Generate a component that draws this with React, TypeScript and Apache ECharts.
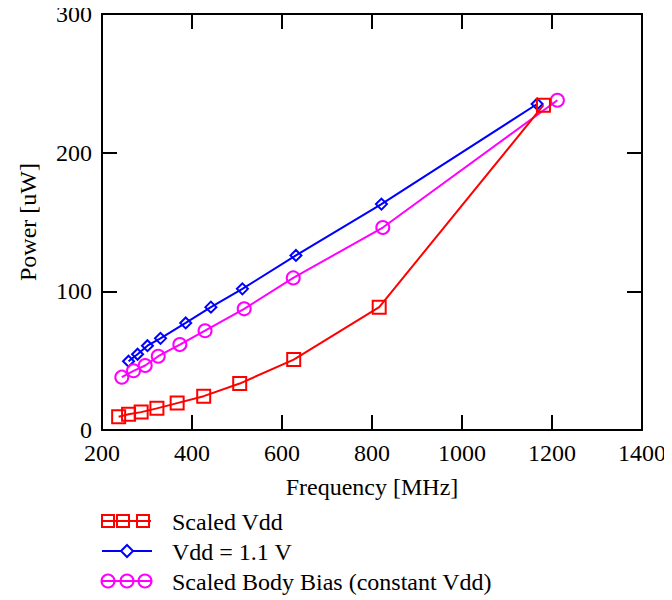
import React, { useEffect, useRef } from "react";
import * as echarts from "echarts";

const freqScaledVdd = [237, 259, 287, 322, 367, 426, 506, 626, 816, 1181];
const powerScaledVdd = [9.6, 11.3, 12.9, 15.6, 19.4, 24.4, 33.5, 50.8, 88.6, 234.2];
const freqNominal = [259, 279, 301, 330, 386, 442, 512, 631, 821, 1167];
const powerNominal = [49.6, 54.6, 60.8, 66.1, 77.2, 88.6, 101.8, 125.9, 162.9, 235.1];
const freqBodyBias = [244, 270, 296, 325, 373, 429, 516, 625, 824, 1212];
const powerBodyBias = [38.1, 42.7, 46.5, 53.2, 61.6, 71.6, 87.4, 109.7, 146, 237.8];

const seriesNames = ["Scaled Vdd", "Vdd = 1.1 V", "Scaled Body Bias (constant Vdd)"];
const seriesColors = ["#ff0000", "#0000ff", "#ff00ff"];
const xAxisName = "Frequency [MHz]";
const yAxisName = "Power [uW]";

const FONT = "'Liberation Serif', 'Times New Roman', serif";
const FS = 24;

function zip(xs: number[], ys: number[]) {
  return xs.map((x, i) => [x, ys[i]]);
}

export default function App() {
  const ref = useRef<HTMLDivElement>(null);
  useEffect(() => {
    if (!ref.current) return;
    const chart = echarts.init(ref.current, null, { renderer: "svg" });

    const axisCommon = {
      type: "value" as const,
      axisLine: { show: true, onZero: false, lineStyle: { color: "#000", width: 2 } },
      axisTick: { show: true, inside: true, length: 15, lineStyle: { color: "#000", width: 2 } },
      splitLine: { show: false },
    };
    const labelStyle = { color: "#000", fontFamily: FONT, fontSize: FS };
    const plainFmt = (v: number) => String(v);

    const legendX = 102;
    const legendRows = [521, 551, 581];
    const graphic: any[] = [];
    // row 1: squares
    graphic.push({
      type: "line",
      shape: { x1: legendX, y1: legendRows[0], x2: legendX + 49, y2: legendRows[0] },
      style: { stroke: seriesColors[0], lineWidth: 2 },
    });
    [108, 123, 143].forEach((cx) =>
      graphic.push({
        type: "rect",
        shape: { x: cx - 6, y: legendRows[0] - 6, width: 12, height: 12 },
        style: { fill: "none", stroke: seriesColors[0], lineWidth: 2 },
      })
    );
    // row 2: line + diamond
    graphic.push({
      type: "line",
      shape: { x1: legendX, y1: legendRows[1], x2: legendX + 50, y2: legendRows[1] },
      style: { stroke: seriesColors[1], lineWidth: 2 },
    });
    graphic.push({
      type: "polygon",
      shape: {
        points: [
          [127, legendRows[1] - 6],
          [133, legendRows[1]],
          [127, legendRows[1] + 6],
          [121, legendRows[1]],
        ],
      },
      style: { fill: "#fff", stroke: seriesColors[1], lineWidth: 2 },
    });
    // row 3: circles
    graphic.push({
      type: "line",
      shape: { x1: legendX, y1: legendRows[2], x2: legendX + 50, y2: legendRows[2] },
      style: { stroke: seriesColors[2], lineWidth: 2 },
    });
    [108, 127, 145].forEach((cx) =>
      graphic.push({
        type: "circle",
        shape: { cx, cy: legendRows[2], r: 6.5 },
        style: { fill: "none", stroke: seriesColors[2], lineWidth: 2 },
      })
    );
    seriesNames.forEach((name, i) =>
      graphic.push({
        type: "text",
        x: 172,
        y: legendRows[i] + 1,
        style: {
          text: name,
          fill: "#000",
          fontFamily: FONT,
          fontSize: FS,
          verticalAlign: "middle",
          align: "left",
        },
      })
    );

    chart.setOption({
      animation: false,
      backgroundColor: "#fff",
      grid: { left: 102, right: 30, top: 14, bottom: 170, containLabel: false },
      xAxis: [
        {
          ...axisCommon,
          position: "bottom",
          min: 200,
          max: 1400,
          interval: 200,
          name: xAxisName,
          nameLocation: "middle",
          nameGap: 45,
          nameTextStyle: { ...labelStyle },
          axisLabel: { ...labelStyle, margin: 11, formatter: plainFmt },
        },
        {
          ...axisCommon,
          position: "top",
          min: 200,
          max: 1400,
          interval: 200,
          axisLabel: { show: false },
        },
      ],
      yAxis: [
        {
          ...axisCommon,
          position: "left",
          min: 0,
          max: 300,
          interval: 100,
          name: yAxisName,
          nameLocation: "middle",
          nameGap: 62,
          nameTextStyle: { ...labelStyle },
          axisLabel: { ...labelStyle, margin: 10, formatter: plainFmt },
        },
        {
          ...axisCommon,
          position: "right",
          min: 0,
          max: 300,
          interval: 100,
          axisLabel: { show: false },
        },
      ],
      series: [
        {
          name: seriesNames[0],
          type: "line",
          data: zip(freqScaledVdd, powerScaledVdd),
          symbol: "rect",
          symbolSize: 13,
          lineStyle: { color: seriesColors[0], width: 2 },
          itemStyle: { color: "transparent", borderColor: seriesColors[0], borderWidth: 2 },
          z: 3,
        },
        {
          name: seriesNames[1],
          type: "line",
          data: zip(freqNominal, powerNominal),
          symbol: "diamond",
          symbolSize: 11,
          lineStyle: { color: seriesColors[1], width: 2 },
          itemStyle: { color: "transparent", borderColor: seriesColors[1], borderWidth: 2 },
          z: 2,
        },
        {
          name: seriesNames[2],
          type: "line",
          data: zip(freqBodyBias, powerBodyBias),
          symbol: "circle",
          symbolSize: 13,
          lineStyle: { color: seriesColors[2], width: 2 },
          itemStyle: { color: "transparent", borderColor: seriesColors[2], borderWidth: 2 },
          z: 2,
        },
      ],
      graphic,
    });
    return () => chart.dispose();
  }, []);
  return <div ref={ref} style={{ width: 672, height: 600, marginLeft: -8, marginTop: -8 }} />;
}
